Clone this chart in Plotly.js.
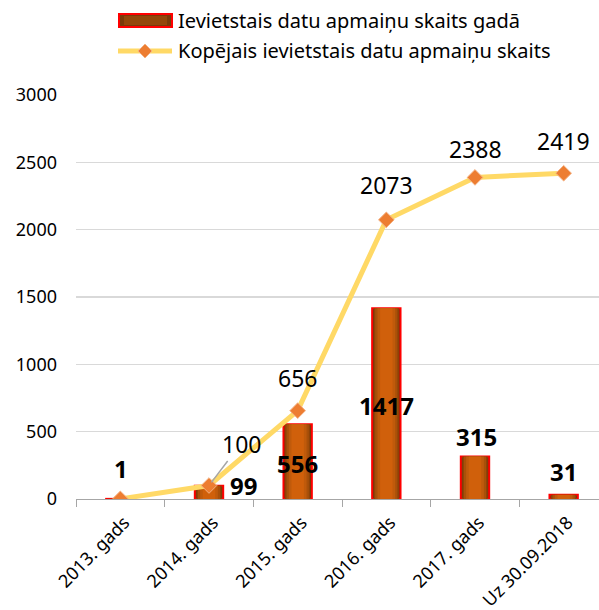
<!DOCTYPE html>
<html><head><meta charset="utf-8">
<script src="https://cdn.plot.ly/plotly-3.0.1.min.js"></script>
<style>html,body{margin:0;padding:0;background:#fff;overflow:hidden;width:599px;height:610px}#c{width:608px;height:610px}</style>
</head><body><div id="c"></div>
<script>
const categories = ["2013. gads","2014. gads","2015. gads","2016. gads","2017. gads","Uz 30.09.2018"];
const yearly = [1, 99, 556, 1417, 315, 31];
const cumulative = [1, 100, 656, 2073, 2388, 2419];
const barName = "Ievietstais datu apmaiņu skaits gadā";
const lineName = "Kopējais ievietstais datu apmaiņu skaits";

const FONT = "Noto Sans, Liberation Sans, sans-serif";

// gradient imitation layers (width, colour)
const layers = [[0.32,"#6e3406"],[0.285,"#8e4408"],[0.25,"#aa5009"],[0.20,"#c05a0b"],[0.14,"#d0600b"]];
const traces = layers.map((l,k)=>({
  type:"bar", x:categories, y:yearly, width:l[0], showlegend:false, hoverinfo:"skip",
  marker:{color:l[1], line: k===0 ? {color:"#ff0000", width:2} : {width:0}}
}));
traces.push({type:"scatter", mode:"lines+markers", x:categories, y:cumulative, name:lineName, showlegend:false,
   line:{color:"#ffd966", width:5}, marker:{symbol:"diamond", size:12, color:"#ed7d31", line:{color:"#f4b183", width:1}}});

// label offsets (pixels)
const barOff = [[1,30],[34,0],[0,-39],[0,-97],[1,20],[0,23]];
const lineOff = [null,[32,42],[0,33],[0,35],[0,28],[0,32]];
const ann = [];
categories.forEach((c,i)=>{
  ann.push({x:c, y:yearly[i], xref:"x", yref:"y", text:"<b>"+yearly[i]+"</b>", showarrow:false,
    xshift:barOff[i][0], yshift:barOff[i][1], font:{family:FONT, size:24, color:"#000"}});
  if(lineOff[i]){
    if(i===1){
      ann.push({x:c, y:cumulative[i], xref:"x", yref:"y", text:String(cumulative[i]), showarrow:true,
        ax:lineOff[i][0], ay:-lineOff[i][1], arrowhead:0, arrowwidth:1.5, arrowcolor:"#a6a6a6", standoff:4,
        font:{family:FONT, size:23, color:"#000"}});
    } else {
      ann.push({x:c, y:cumulative[i], xref:"x", yref:"y", text:String(cumulative[i]), showarrow:false,
        xshift:lineOff[i][0], yshift:lineOff[i][1], font:{family:FONT, size:23, color:"#000"}});
    }
  }
});

// custom legend (paper coordinates from pixel positions)
const L=76, W=532, B=499, H=404;
const px=v=>(v-L)/W, py=v=>(B-v)/H;
ann.push({xref:"paper", yref:"paper", x:px(176), y:py(20), xanchor:"left", yanchor:"middle", showarrow:false,
  text:barName, font:{family:FONT, size:20, color:"#000"}});
ann.push({xref:"paper", yref:"paper", x:px(176), y:py(51), xanchor:"left", yanchor:"middle", showarrow:false,
  text:lineName, font:{family:FONT, size:20, color:"#000"}});
const shapes = [
  {type:"rect", xref:"paper", yref:"paper", x0:px(119), x1:px(172), y0:py(27), y1:py(14),
   fillcolor:"#7a3a08", line:{color:"#ff0000", width:2}},
  {type:"rect", xref:"paper", yref:"paper", x0:px(124), x1:px(167), y0:py(25), y1:py(16),
   fillcolor:"#93470a", line:{width:0}},
  {type:"line", xref:"paper", yref:"paper", x0:px(118), x1:px(172), y0:py(51), y1:py(51),
   line:{color:"#ffd966", width:5}},
  {type:"path", xref:"paper", yref:"paper",
   path:`M ${px(145)} ${py(44)} L ${px(152)} ${py(51)} L ${px(145)} ${py(58)} L ${px(138)} ${py(51)} Z`,
   fillcolor:"#ed7d31", line:{color:"#f4b183", width:1}}
];

const layout = {
  width:608, height:610,
  margin:{l:76, r:0, t:95, b:111},
  paper_bgcolor:"#fff", plot_bgcolor:"#fff",
  barmode:"overlay",
  showlegend:false,
  xaxis:{type:"category", tickangle:-45, tickson:"boundaries", ticks:"outside", ticklen:7, tickcolor:"#a6a6a6",
    showline:true, linecolor:"#a6a6a6", linewidth:1, showgrid:false, tickfont:{family:FONT, size:18, color:"#000"},
    ticklabelstandoff:5, ticklabelshift:4, range:[-0.5,5.5]},
  yaxis:{range:[0,3000], dtick:500, showgrid:true, gridcolor:"#d9d9d9", gridwidth:1.5, zeroline:false, showline:false,
    tickfont:{family:FONT, size:18, color:"#000"}, ticks:"", ticklabelstandoff:18},
  annotations:ann, shapes:shapes
};
Plotly.newPlot("c", traces, layout, {displayModeBar:false, staticPlot:true});
</script></body></html>
